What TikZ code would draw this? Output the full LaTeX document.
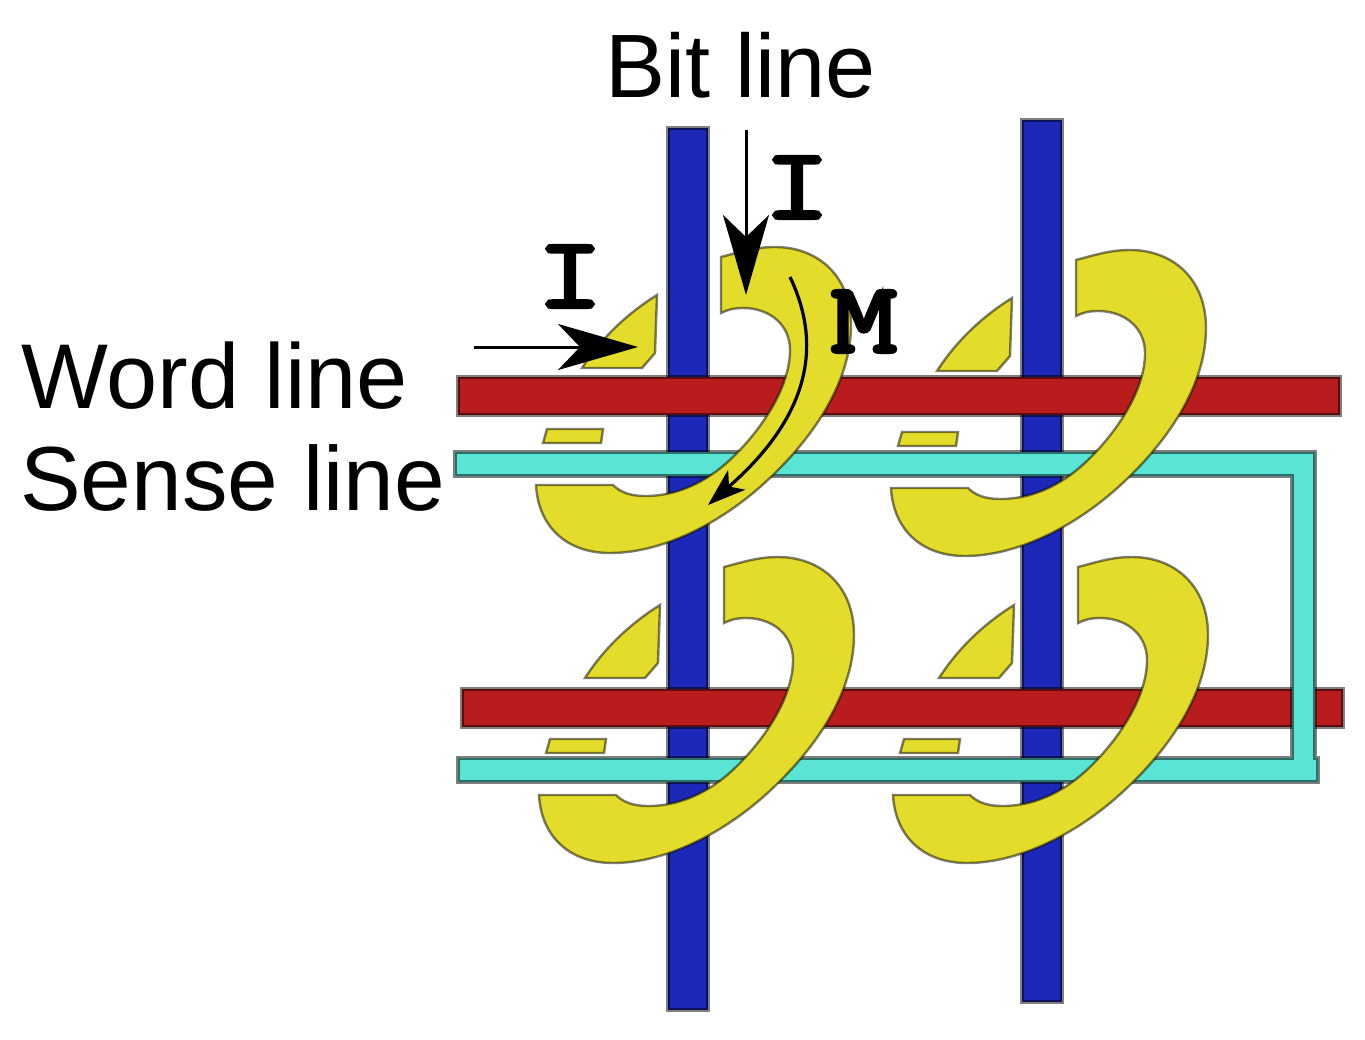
\documentclass[tikz,border=0pt]{standalone}
\usepackage{fontspec}
\setmainfont{Liberation Sans}
\setmonofont[FakeBold=4,FakeStretch=1.3]{Latin Modern Mono}
\usetikzlibrary{arrows.meta}
\definecolor{wblue}{HTML}{1C28B8}
\definecolor{wred}{HTML}{B81C1C}
\definecolor{wteal}{HTML}{5AE4D4}
\definecolor{wyellow}{HTML}{E4DC2A}
\tikzset{
  bar/.style={line width=4.5pt,draw=black,draw opacity=.5,line join=miter},
  core/.style={fill=wyellow,draw=black,draw opacity=.5,line width=2.4pt,line join=miter},
  lbl/.style={font=\fontsize{#1}{#1}\selectfont,anchor=base west,inner sep=0pt,text=black},
  sym/.style={font=\fontsize{100}{100}\selectfont\ttfamily\bfseries,anchor=base,inner sep=0pt,text=black},
  bigarrow/.style={line width=3pt,black,-{Stealth[length=80pt,width=46pt,inset=22pt]}},
  smallarrow/.style={line width=3.2pt,black,-{Stealth[length=38pt,width=26pt,inset=10pt]}}
}
\newcommand{\corecell}[2]{%
  \begin{scope}[shift={(#1,#2)}]
    \path[core] (721,257) .. controls (740,252) and (755,247) .. (775,247)
      .. controls (817,247) and (851,275) .. (851,325)
      .. controls (851,375) and (822,427) .. (775,473)
      .. controls (728,520) and (665,553) .. (610,553)
      .. controls (565,553) and (538,525) .. (536,485)
      -- (613,485)
      .. controls (620,492) and (630,496) .. (645,496)
      .. controls (680,496) and (710,480) .. (735,455)
      .. controls (765,425) and (790,385) .. (790,350)
      .. controls (790,325) and (770,308) .. (743,308)
      .. controls (733,308) and (727,310) .. (721,313) -- cycle;
    \path[core] (657,295) -- (655,353) -- (642,368) -- (582,368) .. controls (600,340) and (625,315) .. (657,295) -- cycle;
    \path[core] (547,429) -- (603,429) -- (601,443) -- (543,443) -- cycle;
  \end{scope}}
\begin{document}
\begin{tikzpicture}[x=1pt,y=-1pt]
\useasboundingbox (0,0) rectangle (1365,1039);
% bit lines
\path[bar,fill=wblue] (668,128) rectangle (708,1010);
\path[bar,fill=wblue] (1022,120) rectangle (1062,1002);
% word lines
\path[bar,fill=wred] (458,377) rectangle (1340,415);
\path[bar,fill=wred] (462,689) rectangle (1343,727);
% sense line
\path[bar,fill=wteal] (455,452) -- (1315,452) -- (1315,758) -- (1318,758) -- (1318,782) -- (458,782) -- (458,758) -- (1292,758) -- (1292,476) -- (455,476) -- cycle;
% cores
\corecell{0}{0}
\corecell{355}{3}
\corecell{3}{310}
\corecell{357}{310}
% labels
\node[lbl=90] (bit) at (605,97) {Bit line};
\node[lbl=92] (word) at (21,408) {Word line};
\node[lbl=91] (sense) at (20,510) {Sense line};
\node[sym] (i1) at (797,218) {I};
\node[sym] (i2) at (570,307) {I};
\node[sym] (m) at (864,352) {M};
% arrows
\coordinate (a1s) at (474,347);
\coordinate (a1e) at (638,347);
\coordinate (a2s) at (746,130);
\coordinate (a2e) at (746,295);
\coordinate (a3s) at (790,277);
\coordinate (a3e) at (708,505);
\draw[bigarrow] (a1s) -- (a1e);
\draw[bigarrow] (a2s) -- (a2e);
\draw[smallarrow] (a3s) .. controls (825,350) and (805,420) .. (a3e);
\end{tikzpicture}
\end{document}
